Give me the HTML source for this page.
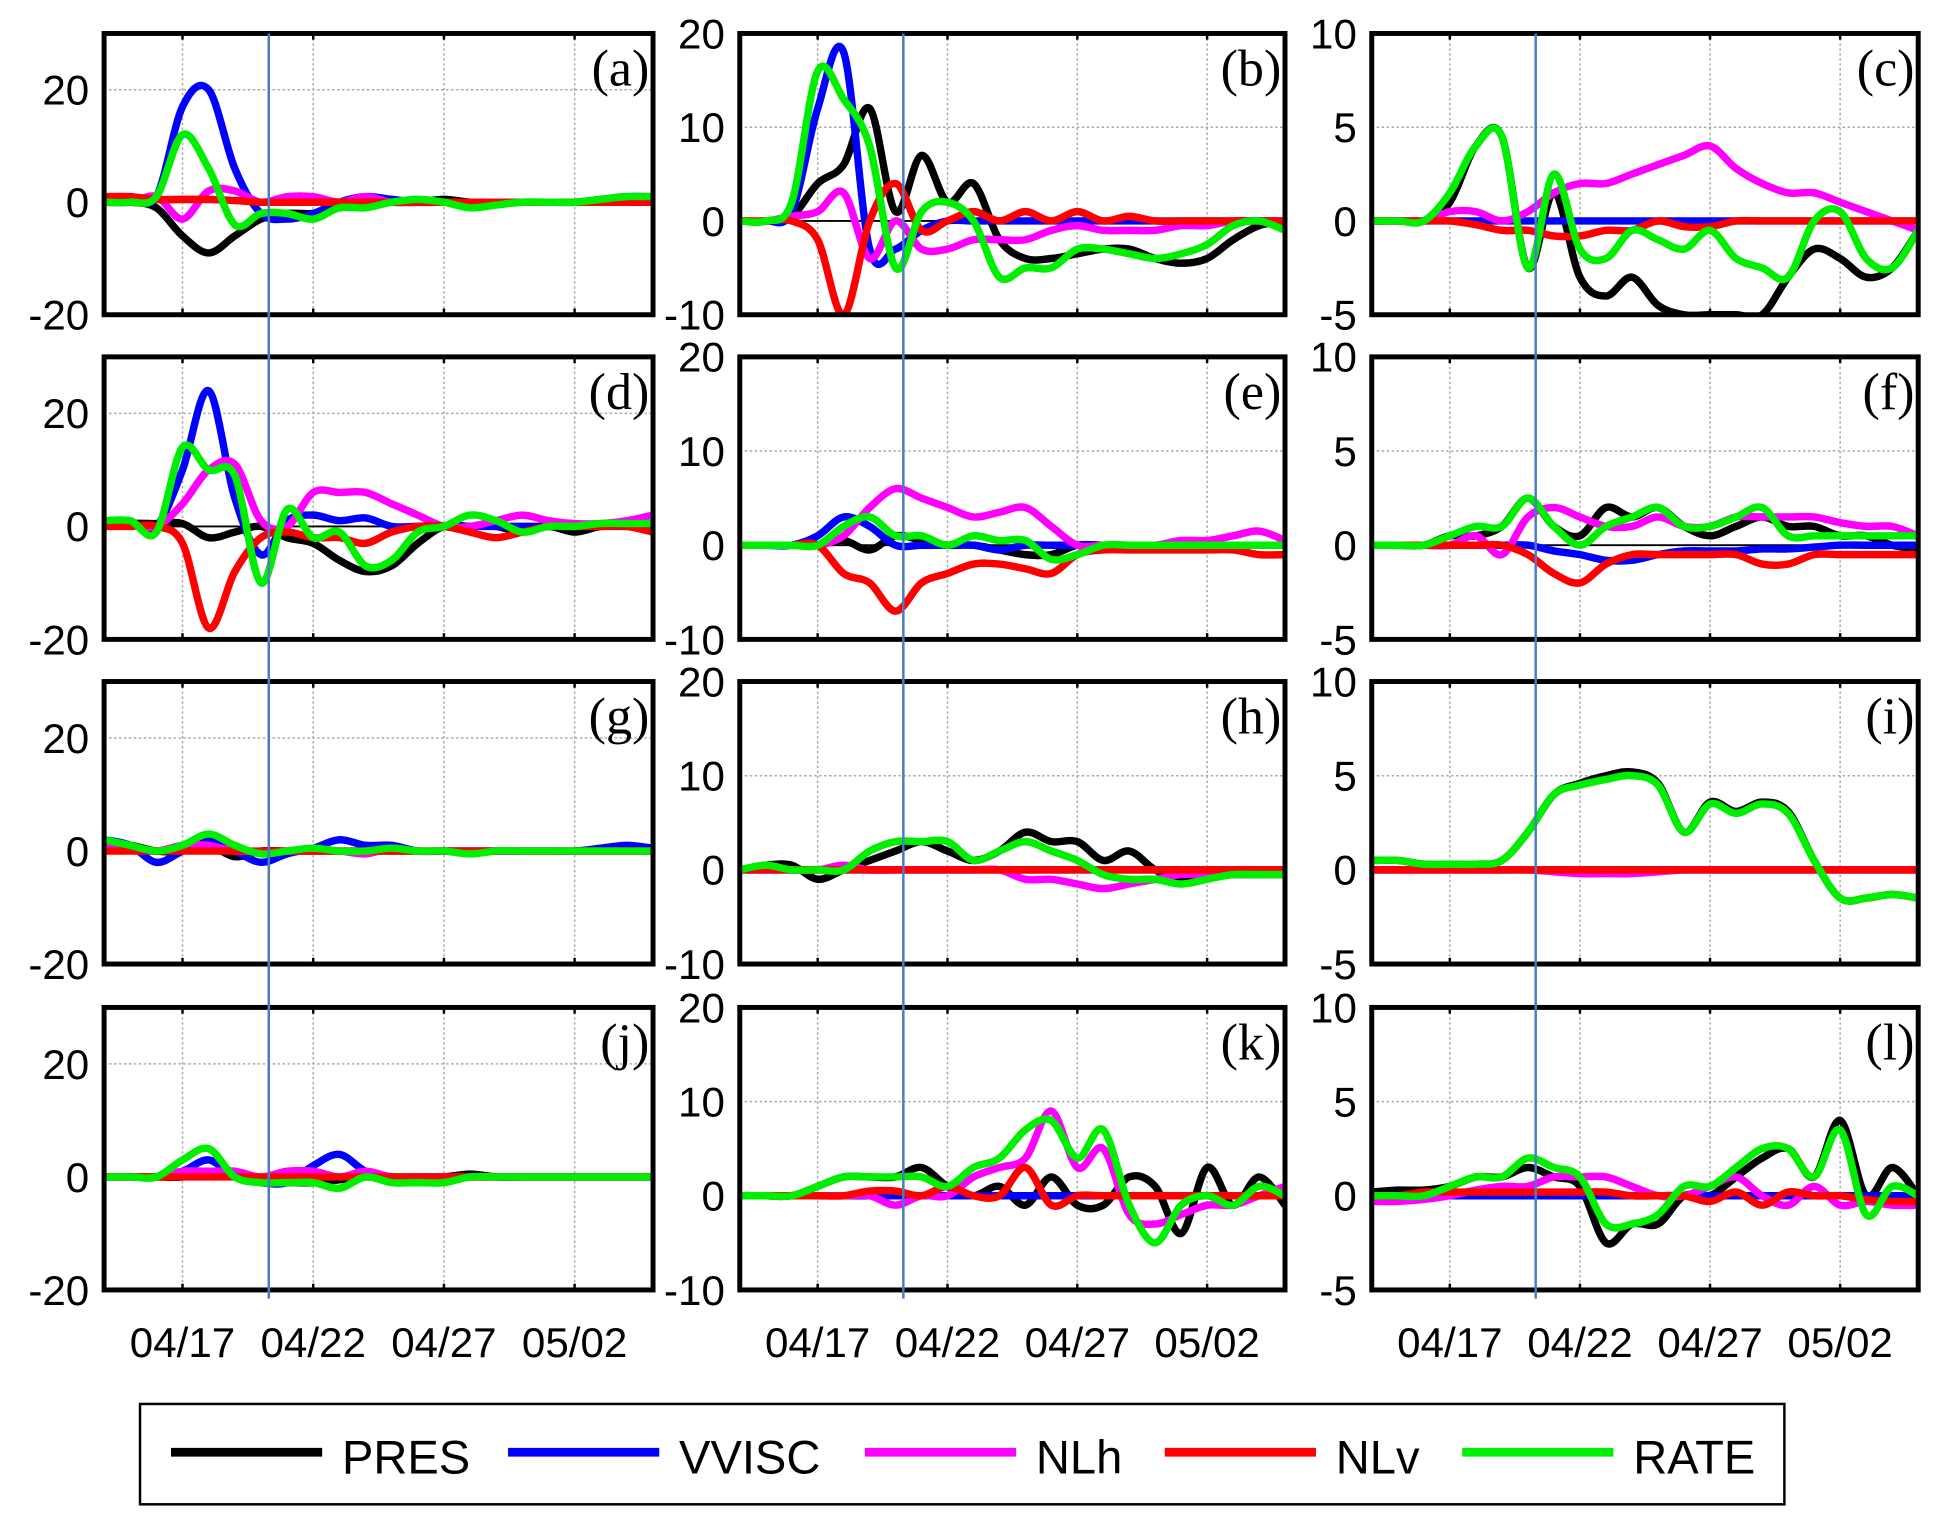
<!DOCTYPE html>
<html><head><meta charset="utf-8"><style>
html,body{margin:0;padding:0;background:#fff;}
svg{display:block;}
</style></head><body>
<svg id="fig" width="1943" height="1526" viewBox="0 0 1568 1231.5" preserveAspectRatio="none" xmlns="http://www.w3.org/2000/svg"></svg>
<script>
const days = [0,1,2,3,4,5,6,7,8,9,10,11,12,13,14,15,16,17,18,19,20,21];
const xTickDays = [3,8,13,18];
const xTickLabels = ["04/17","04/22","04/27","05/02"];
const markerDay = 6.3;
const seriesNames = ["PRES","VVISC","NLh","NLv","RATE"];
const colYTicks = [[-20,0,20],[-10,0,10,20],[-5,0,5,10]];
const colYDomains = [[-20,30],[-10,20],[-5,10]];
const panelLabels = ["(a)","(b)","(c)","(d)","(e)","(f)","(g)","(h)","(i)","(j)","(k)","(l)"];

const pA_pres=[0,0,-1,-6,-9,-6,-3,-2,-2,-1,-0.5,0,0,0.5,0,0,0,0,0,0,0,0];
const pA_vvisc=[0,1,1,17,20,6,-2,-3,-2,0,1,0.5,0,0,0,0,0,0,0,0.5,1,1];
const pA_nlh=[0,0,1,-3,2,2,0,1,1,0,1,0,0,0,0,0,0,0,0,0,0,0];
const pA_nlv=[1,1,0.5,0.5,0.5,0.3,0,0,0,0,0,0,0,0,0,0,0,0,0,0,0,0];
const pA_rate=[0,0,1,12,6,-4,-2,-2,-3,-1,-1,0,0.5,0,-1,-0.5,0,0,0,0.5,1,1];

const pB_pres=[0,0,0.5,4,6,12,1,7,2,4,-2,-4,-4,-3.5,-3,-3,-4,-4.5,-4,-2,-0.5,0];
const pB_vvisc=[0,0,1,12,18,-3,-3,-1,0,0,0,0,0,0,0,0,0,0,0,0,0,0];
const pB_nlh=[0,0,0.5,1,3,-4,0,-3,-3,-2,-2,-2,-1,-0.5,-1,-1,-1,-0.5,-0.5,0,0,0];
const pB_nlv=[0,0,0,-2,-10,0,4,-1,0,1,0,1,0,1,0,0.5,0,0,0,0,0,0];
const pB_rate=[0,0,2,16,13,8,-5,1,2,0,-6,-5,-5,-3,-3,-3.5,-4,-3.5,-2.5,-0.5,0,-1];

const pC_pres=[0,0,0,1,4,4.5,-2.5,1.5,-3,-4,-3,-4.5,-5,-5,-5,-5,-3,-1.5,-2,-3,-2.5,-0.5];
const pC_vvisc=[0,0,0,0,0,0,0,0,0,0,0,0,0,0,0,0,0,0,0,0,0,0];
const pC_nlh=[0,0,0,0.5,0.5,0,0.5,1.5,2,2,2.5,3,3.5,4,2.8,2,1.5,1.5,1,0.5,0,-0.5];
const pC_nlv=[0,0,0,0,-0.2,-0.5,-0.5,-0.8,-0.8,-0.5,-0.5,0,-0.3,-0.3,0,0,0,0,0,0,0,0];
const pC_rate=[0,0,0,1.5,4,4.5,-2.5,2.5,-1.5,-2,-0.5,-1,-1.5,-0.5,-2,-2.5,-3,0,0.5,-2,-2.5,-0.5];

const pD_pres=[0,0.5,0.5,0.5,-2,-1,0,-2,-3,-6,-8,-7,-3,0,0,0,-1,0,-1,0,0,0];
const pD_vvisc=[1,0.5,0,10,24,5,-5,1,2,1,1.5,0,0,0,0,0,0,0,0,0,0,0];
const pD_nlh=[1,0.5,0,4,10,11,1,0,6,6,6,4,2,0,0,1,2,1,0.5,0.5,1,2];
const pD_nlv=[0,0,0,-3,-18,-8,-2,-1,-2,-2,-3,-1,0,0,-1,-2,-1,0,0,0,0,-1];
const pD_rate=[1,1,-1,14,10,9,-10,3,-2,-1,-7,-6,-1,0,2,1,-1,0,0,0.5,0.5,0.5];

const pE_pres=[0,0,0,0,0.5,-0.5,1,0.5,0,0,-0.5,-1,-1,0,0,0,0,0,0,0,0,0];
const pE_vvisc=[0,0,0,1,3,2,0,0,0,0,-0.5,0,0,0,0,0,0,0,0,0,0,0];
const pE_nlh=[0,0,0,0,1,4,6,5,4,3,3.5,4,2,0,0,0,0,0.5,0.5,1,1.5,0.5];
const pE_nlv=[0,0,0,0,-3,-4,-7,-4,-3,-2,-2,-2.5,-3,-1,-0.5,-0.5,-0.5,-0.5,-0.5,-0.5,-1,-1];
const pE_rate=[0,0,0,0,2,3,1,1,0,1,0.5,0.5,-1.5,-1,0,0,0,0,0,0,0,0];

const pF_pres=[0,0,0,0.5,0.5,1,2.5,1,0.5,2,1.5,2,1,0.5,1,1.5,1,1,0.5,0.5,0,-0.2];
const pF_vvisc=[0,0,0,0,0,0,0,-0.3,-0.5,-0.8,-0.8,-0.5,-0.3,-0.3,-0.3,-0.2,-0.2,-0.1,0,0,0,0];
const pF_nlh=[0,0,0,0,0.5,-0.5,1.5,2,1.5,1,1,1.5,1,1,1.5,1.5,1.5,1.5,1.2,1,1,0.5];
const pF_nlv=[0,0,0,0,0,0,-0.5,-1.5,-2,-1,-0.5,-0.5,-0.5,-0.5,-0.5,-1,-1,-0.5,-0.5,-0.5,-0.5,-0.5];
const pF_rate=[0,0,0,0.5,1,1,2.5,1,0,1,1.5,2,1,1,1.5,2,0.5,0.5,0.5,0.5,0.5,0.5];

const pG_pres=[1,1,0,0,1,-1,0,0,0,0,0,0,0,0,0,0,0,0,0,0,0,0];
const pG_vvisc=[2,1,-2,0,2,0,-2,-0.5,0.5,2,1,1,0,0,0,0,0,0,0,0.5,1,0.5];
const pG_nlh=[1,0.5,0,1,1,0,0,0,0,0,-0.5,0.5,0,0,0,0,0,0,0,0,0,0];
const pG_nlv=[0,0,0,0,0,0,0,0,0,0,0,0,0,0,0,0,0,0,0,0,0,0];
const pG_rate=[2,1,0,1,3,1,-0.5,0,0.5,0,0,0.5,0,0,-0.5,0,0,0,0,0,0,0];

const pH_pres=[0,0.5,0.5,-1,0,1,2,3,2,1,2,4,3,3,1,2,0,-1,-0.5,-0.5,-0.5,-0.5];
const pH_vvisc=[0,0,0,0,0,0,0,0,0,0,0,0,0,0,0,0,0,0,0,0,0,0];
const pH_nlh=[0,0,0,0,0.5,0,0,0,0,0,0,-1,-1,-1.5,-2,-1.5,-1,-0.5,-0.5,0,0,0];
const pH_nlv=[0,0,0,0,0,0,0,0,0,0,0,0,0,0,0,0,0,0,0,0,0,0];
const pH_rate=[0,0.5,0,0,0,2,3,3,3,1,2,3,2,1,-0.5,-1,-1,-1.5,-1,-0.5,-0.5,-0.5];

const pI_pres=[0.5,0.5,0.3,0.3,0.3,0.5,2,4,4.6,5,5.2,4.6,2,3.6,3.1,3.6,3.1,0.5,-1.5,-1.5,-1.3,-1.5];
const pI_vvisc=[0,0,0,0,0,0,0,0,0,0,0,0,0,0,0,0,0,0,0,0,0,0];
const pI_nlh=[0,0,0,0,0,0,0,-0.1,-0.2,-0.2,-0.2,-0.1,0,0,0,0,0,0,0,0,0,0];
const pI_nlv=[0,0,0,0,0,0,0,0,0,0,0,0,0,0,0,0,0,0,0,0,0,0];
const pI_rate=[0.5,0.5,0.3,0.3,0.3,0.5,2,4,4.5,4.8,5,4.5,2,3.5,3,3.5,3,0.5,-1.5,-1.5,-1.3,-1.5];

const pJ_pres=[0,0,0,0,1,0,-1,-1,-1,-0.5,0,0,0,0,0.5,0,0,0,0,0,0,0];
const pJ_vvisc=[0,0,0,1,3,0,-1,-1,2,4,1,0,0,0,0,0,0,0,0,0,0,0];
const pJ_nlh=[0,0,0,1,1,1,0,1,1,0,1,0,0,0,0,0,0,0,0,0,0,0];
const pJ_nlv=[0,0,0,0,0,0,0,0,0,0,0,0,0,0,0,0,0,0,0,0,0,0];
const pJ_rate=[0,0,0,3,5,0,-1,-1,-1,-2,0,-1,-1,-1,0,0,0,0,0,0,0,0];

const pK_pres=[0,0,0,1,2,2,2,3,1,0,1,-1,2,-1,-1,2,1,-4,3,-1,2,-1];
const pK_vvisc=[0,0,0,0,0,0,0,0,0,0,0,0,0,0,0,0,0,0,0,0,0,0];
const pK_nlh=[0,0,0,0,0,0,-1,0,0,2,3,4,9,3,5,-2,-3,-2,-1,-1,0,1];
const pK_nlv=[0,0,0,0,0,0.5,0.5,0,1,0,0,3,-1,0,0,0,0,0,0,0,0,0];
const pK_rate=[0,0,0,1,2,2,2,2,1,3,4,7,8,4,7,-1,-5,-1,0,-1,1,0];

const pL_pres=[0.2,0.3,0.3,0.5,1,1,1.5,1,0.5,-2.5,-1.5,-1.5,0,0,1,2,2.5,1,4,0,1.5,0];
const pL_vvisc=[0,0,0,0,0,0,0,0,0,0,0,0,0,0,0,0,0,0,0,0,0,0];
const pL_nlh=[-0.3,-0.3,-0.2,0,0.3,0.5,0.5,1,1,1,0.5,0,0,0.5,1,0,-0.5,0.5,-0.5,-0.3,-0.5,-0.5];
const pL_nlv=[0,0,0.2,0.2,0.2,0.2,0.2,0.2,0.2,0.2,0,0,0,-0.3,0.2,-0.5,0.2,0,0,-0.2,-0.3,-0.3];
const pL_rate=[0,0,0,0.5,1,1,2,1.5,1,-1.5,-1.5,-1,0.5,0.5,1.5,2.5,2.5,1,3.5,-1,0.5,0];

const panelData = [
 [pA_pres,pA_vvisc,pA_nlh,pA_nlv,pA_rate],[pB_pres,pB_vvisc,pB_nlh,pB_nlv,pB_rate],[pC_pres,pC_vvisc,pC_nlh,pC_nlv,pC_rate],
 [pD_pres,pD_vvisc,pD_nlh,pD_nlv,pD_rate],[pE_pres,pE_vvisc,pE_nlh,pE_nlv,pE_rate],[pF_pres,pF_vvisc,pF_nlh,pF_nlv,pF_rate],
 [pG_pres,pG_vvisc,pG_nlh,pG_nlv,pG_rate],[pH_pres,pH_vvisc,pH_nlh,pH_nlv,pH_rate],[pI_pres,pI_vvisc,pI_nlh,pI_nlv,pI_rate],
 [pJ_pres,pJ_vvisc,pJ_nlh,pJ_nlv,pJ_rate],[pK_pres,pK_vvisc,pK_nlh,pK_nlv,pK_rate],[pL_pres,pL_vvisc,pL_nlh,pL_nlv,pL_rate]
];

const NS="http://www.w3.org/2000/svg";
const svg=document.getElementById('fig');
const colors=["#000","#0000ff","#ff00ff","#ff0000","#00ee00"];
const colL=[84,597,1107], colR=[527,1037,1548];
const rowT=[27,288,550,813], rowB=[254,516,778,1041];
function mk(t,a,p){const e=document.createElementNS(NS,t);for(const k in a)e.setAttribute(k,a[k]);(p||svg).appendChild(e);return e;}
function smooth(pts){let d=`M${pts[0][0]},${pts[0][1]}`;for(let i=0;i<pts.length-1;i++){const p0=pts[Math.max(0,i-1)],p1=pts[i],p2=pts[i+1],p3=pts[Math.min(pts.length-1,i+2)];
const c1x=p1[0]+(p2[0]-p0[0])/6,c1y=p1[1]+(p2[1]-p0[1])/6,c2x=p2[0]-(p3[0]-p1[0])/6,c2y=p2[1]-(p3[1]-p1[1])/6;
d+=` C${c1x.toFixed(1)},${c1y.toFixed(1)} ${c2x.toFixed(1)},${c2y.toFixed(1)} ${p2[0].toFixed(1)},${p2[1].toFixed(1)}`;}return d;}

for(let r=0;r<4;r++)for(let c=0;c<3;c++){
 const idx=r*3+c,L=colL[c],R=colR[c],T=rowT[r],B=rowB[r],dom=colYDomains[c];
 const xs=d=>L+(d-days[0])/(days[days.length-1]-days[0])*(R-L);
 const ys=v=>B-(v-dom[0])/(dom[1]-dom[0])*(B-T);
 const g=mk('g',{});
 
 
 const cp='cp'+idx; const cl=mk('clipPath',{id:cp},g); mk('rect',{x:L,y:T,width:R-L,height:B-T},cl);
 xTickDays.forEach(d=>{const gl=mk('line',{x1:xs(d),x2:xs(d),y1:T,y2:B,stroke:'#aaa','stroke-width':1.2,'stroke-dasharray':'2,2'},g);
  
  mk('line',{x1:xs(d),x2:xs(d),y1:T,y2:T+5,stroke:'#000','stroke-width':2},g);mk('line',{x1:xs(d),x2:xs(d),y1:B,y2:B-5,stroke:'#000','stroke-width':2},g);});
 colYTicks[c].forEach(v=>{ if(v!==dom[0]&&v!==dom[1]){const gl=mk('line',{x1:L,x2:R,y1:ys(v),y2:ys(v),stroke:'#aaa','stroke-width':1.2,'stroke-dasharray':'2,2'},g);
   }
  const t=mk('text',{x:L-12,y:ys(v)+12,'text-anchor':'end','font-family':'Liberation Sans, sans-serif','font-size':34,fill:'#000'},g);
  t.textContent=v;
  });
 const zl=mk('line',{x1:L,x2:R,y1:ys(0),y2:ys(0),stroke:'#000','stroke-width':1.5},g);
 
 const series=panelData[idx];
 series.forEach((vals,si)=>{const pts=vals.map((v,i)=>[xs(days[i]),ys(v)]);
  const p=mk('path',{d:smooth(pts),fill:'none',stroke:colors[si],'stroke-width':6,'stroke-linejoin':'round','clip-path':`url(#${cp})`},g);
  });
 const fr=mk('rect',{x:L,y:T,width:R-L,height:B-T,fill:'none',stroke:'#000','stroke-width':4},g);
 
 const lb=mk('text',{x:R-3,y:T+42,'text-anchor':'end','font-family':'Liberation Serif, serif','font-size':42,fill:'#000'},g);
 lb.textContent=panelLabels[idx];
 
 if(r===3){xTickDays.forEach((d,i)=>{const t=mk('text',{x:xs(d),y:1095,'text-anchor':'middle','font-family':'Liberation Sans, sans-serif','font-size':34,fill:'#000'},g);
  t.textContent=xTickLabels[i];});}
}
for(let c=0;c<3;c++){const L=colL[c],R=colR[c];const x=L+(markerDay-days[0])/(days[days.length-1]-days[0])*(R-L);
 const ml=mk('line',{x1:x,x2:x,y1:rowT[0],y2:1048,stroke:'#4a7cc0','stroke-width':2});
 }
const lg=mk('g',{});
mk('rect',{x:113,y:1133,width:1327,height:81,fill:'#fff',stroke:'#000','stroke-width':2},lg);
const legX=[138,410,698,940,1180];
seriesNames.forEach((n,i)=>{const l=mk('line',{x1:legX[i],x2:legX[i]+122,y1:1172,y2:1172,stroke:colors[i],'stroke-width':7},lg);
 
 const t=mk('text',{x:legX[i]+138,y:1189,'font-family':'Liberation Sans, sans-serif','font-size':38,fill:'#000'},lg);t.textContent=n;
 });
</script>
</body></html>
